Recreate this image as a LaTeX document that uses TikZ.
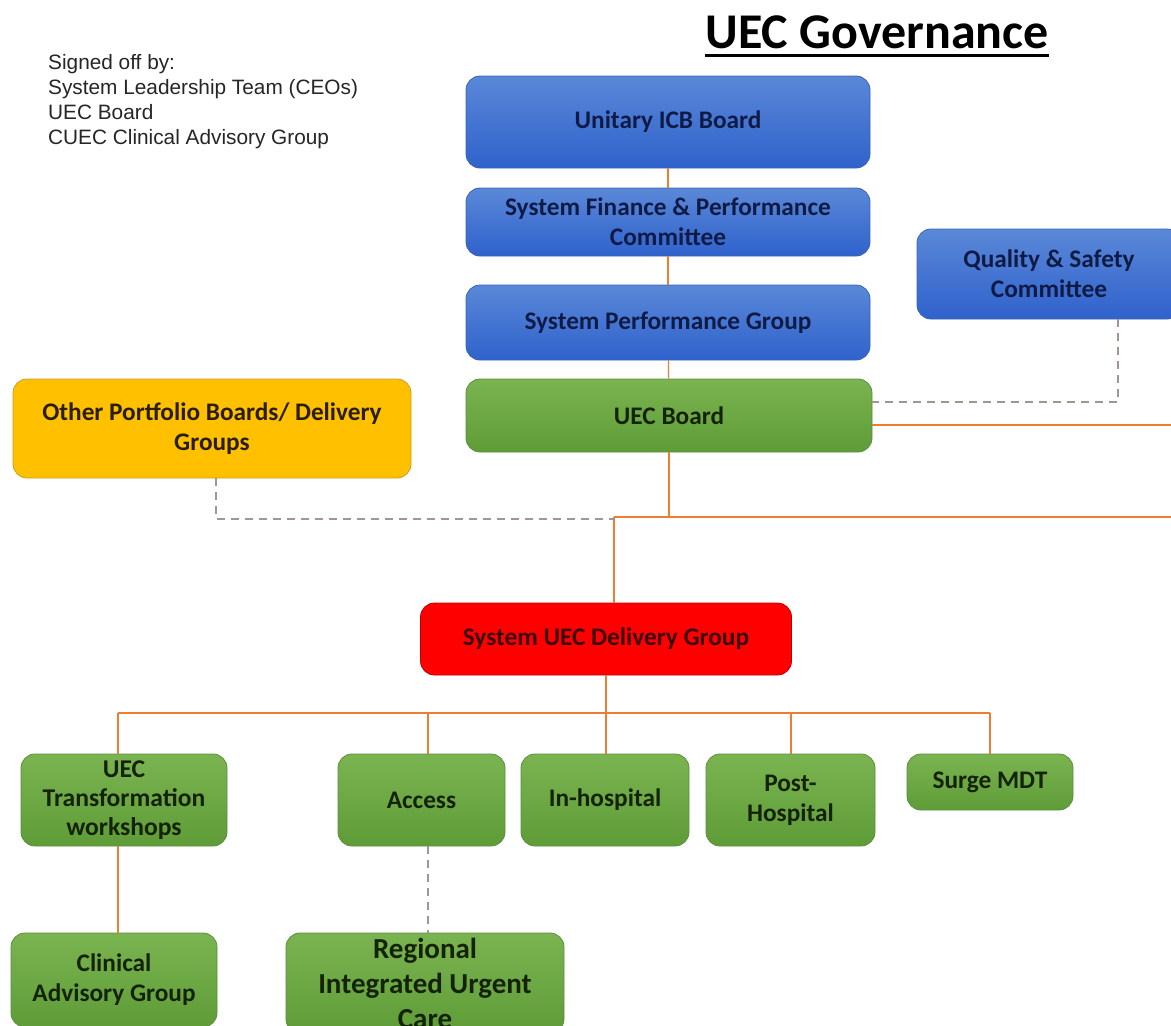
\documentclass[tikz,border=0pt]{standalone}
\usepackage{fontspec}
\setmainfont{Carlito}
\newfontfamily\arialfont{Liberation Sans}
\definecolor{lineor}{HTML}{ED7D31}
\definecolor{dashgr}{HTML}{A39690}
\definecolor{bluetop}{HTML}{5A88D8}
\definecolor{bluebot}{HTML}{2F62CC}
\definecolor{bluedraw}{HTML}{3A64B0}
\definecolor{greentop}{HTML}{7AB450}
\definecolor{greenbot}{HTML}{5E9C38}
\definecolor{greendraw}{HTML}{5B8F3C}
\definecolor{yellowfill}{HTML}{FFC000}
\definecolor{yellowdraw}{HTML}{C8A020}
\definecolor{redfill}{HTML}{FF0000}
\definecolor{reddraw}{HTML}{C00000}
\definecolor{navytext}{HTML}{0F1B45}
\definecolor{greentext}{HTML}{142208}
\definecolor{yellowtext}{HTML}{2A1E00}
\definecolor{redtext}{HTML}{3A0606}
\tikzset{
  box/.style={rounded corners=14pt, draw, line width=0.8pt, align=center, inner sep=0pt,
    font=\bfseries\fontsize{25.3}{30}\selectfont},
  bluebox/.style={box, top color=bluetop, bottom color=bluebot, draw=bluedraw, text=navytext},
  greenbox/.style={box, top color=greentop, bottom color=greenbot, draw=greendraw, text=greentext},
  yellowbox/.style={box, fill=yellowfill, draw=yellowdraw, text=yellowtext},
  redbox/.style={box, fill=redfill, draw=reddraw, text=redtext},
  conn/.style={draw=lineor, line width=1.2pt},
  dconn/.style={draw=dashgr, line width=1.2pt, dash pattern=on 8pt off 6pt},
}
\begin{document}
\begin{tikzpicture}[x=1pt,y=-1pt]
\useasboundingbox (0,0) rectangle (1171,1026);
\clip (0,0) rectangle (1171,1026);
\fill[white] (0,0) rectangle (1171,1026);

% title
\node[inner sep=0pt, font=\bfseries\fontsize{50}{54}\selectfont] (title) at (877,32) {UEC Governance};
\draw[line width=3pt] ([yshift=-7pt]title.base west) -- ([yshift=-7pt]title.base east);

% signed off
\node[anchor=north west, inner sep=0pt, align=left, font=\arialfont\fontsize{20.8}{25}\selectfont, text=black!85] (signed) at (48,54)
  {Signed off by:\\System Leadership Team (CEOs)\\UEC Board\\CUEC Clinical Advisory Group};

% top chain
\node[bluebox, minimum width=404pt, minimum height=92pt] (icb) at (668,122) {Unitary ICB Board};
\node[bluebox, minimum width=404pt, minimum height=68pt] (sfpc) at (668,222) {System Finance \& Performance\\Committee};
\node[bluebox, minimum width=404pt, minimum height=75pt] (spg) at (668,322.5) {System Performance Group};
\node[bluebox, minimum width=264pt, minimum height=90pt] (qsc) at (1049,274) {Quality \& Safety\\Committee};
\node[greenbox, minimum width=406pt, minimum height=73pt] (uec) at (669,415.5) {UEC Board};
\node[yellowbox, minimum width=398pt, minimum height=99pt] (other) at (212,428.5) {Other Portfolio Boards/ Delivery\\Groups};
\node[redbox, minimum width=371pt, minimum height=72pt] (sudg) at (606,639) {System UEC Delivery Group};

% bottom row
\node[greenbox, minimum width=206pt, minimum height=92pt, font=\bfseries\fontsize{25.6}{29}\selectfont] (utw) at (124,800) {UEC\\Transformation\\workshops};
\node[greenbox, minimum width=167pt, minimum height=92pt] (access) at (421.5,800) {Access};
\node[greenbox, minimum width=168pt, minimum height=92pt] (inh) at (605,800) {In-hospital};
\node[greenbox, minimum width=169pt, minimum height=92pt] (post) at (790.5,800) {Post-\\Hospital};
\node[greenbox, minimum width=166pt, minimum height=56pt] (surge) at (990,782) {Surge MDT};
\node[greenbox, minimum width=206pt, minimum height=94pt] (cag) at (114,980) {Clinical\\Advisory Group};
\node[greenbox, minimum width=278pt, minimum height=100pt, font=\bfseries\fontsize{29}{35}\selectfont] (riuc) at (425,983) {Regional\\Integrated Urgent\\Care};

% coordinates
\coordinate (j1) at (614,517);
\coordinate (e2) at (1171,517);
\coordinate (ue) at (1171,425);
\coordinate (qd) at (1118,402);
\coordinate (od) at (216,519);
\coordinate (bus) at (606,713);
\coordinate (b1) at (118,713);
\coordinate (b2) at (428,713);
\coordinate (b3) at (606,713);
\coordinate (b4) at (791,713);
\coordinate (b5) at (990,713);

% connectors
\draw[conn] (icb) -- (sfpc);
\draw[conn] (sfpc) -- (spg);
\draw[conn] (spg) -- (uec);
\draw[conn] (uec.south) -- (uec.south |- j1) -- (e2);
\draw[conn] (j1) -- (uec.south |- j1);
\draw[conn] (j1) -- (j1 |- sudg.north);
\draw[conn] (ue -| uec.east) -- (ue);
\draw[dconn] (qsc.south -| qd) -- (qd) -- (qd -| uec.east);
\draw[dconn] (other.south -| od) -- (od) -- (od -| j1);

\draw[conn] (sudg.south) -- (bus);
\draw[conn] (b1) -- (b5);
\draw[conn] (b1) -- (b1 |- utw.north);
\draw[conn] (b2) -- (b2 |- access.north);
\draw[conn] (b3) -- (b3 |- inh.north);
\draw[conn] (b4) -- (b4 |- post.north);
\draw[conn] (b5) -- (b5 |- surge.north);
\draw[conn] (utw.south -| b1) -- (cag.north -| b1);
\draw[dconn] (access.south -| b2) -- (riuc.north -| b2);
\end{tikzpicture}
\end{document}
